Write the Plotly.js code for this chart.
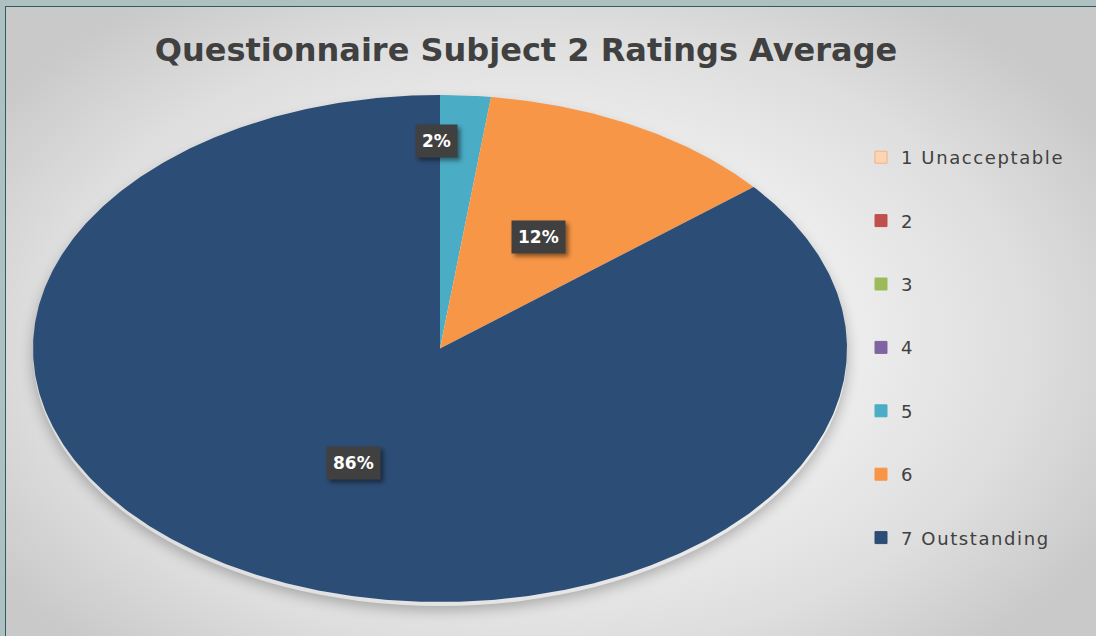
<!DOCTYPE html>
<html>
<head>
<meta charset="utf-8">
<script src="https://cdn.plot.ly/plotly-3.0.1.min.js"></script>
<style>
  html, body { margin: 0; padding: 0; width: 1096px; height: 636px; overflow: hidden; background: #afc0c0; }
  #bg { position: absolute; left: 5px; top: 6px; width: 1100px; height: 640px;
        border-left: 1.5px solid #2e5c66; border-top: 1.5px solid #2e5c66;
        background: radial-gradient(ellipse 60% 65% at 48% 52%, #ffffff 0%, #f4f4f4 35%, #dedede 75%, #c9c9c9 100%); }
  #pieShadow { position: absolute; left: 33px; top: 99px; width: 814px; height: 507px; border-radius: 50%;
        box-shadow: 0 4px 14px rgba(0,0,0,0.28); }
  #chart { position: absolute; left: 0; top: 0; width: 1096px; height: 636px; }
  #chart .annotation rect.bg { filter: drop-shadow(3px 3px 2px rgba(0,0,0,0.45)); }
  #chart .legendtext { letter-spacing: 1.6px; }
  #chart .legend .scrollbox, #chart .legend { clip-path: none !important; }
</style>
</head>
<body>
<div id="bg"></div>
<div id="pieShadow"></div>
<div id="chart"></div>
<script>
// ---- data ----
const categories = ['1 Unacceptable', '2', '3', '4', '5', '6', '7 Outstanding'];
const ratingCounts = [0, 0, 0, 0, 1, 6, 43];
const chartTitle = 'Questionnaire Subject 2 Ratings Average';

// ---- styles ----
const sliceColors = ['#fcd5b5', '#c0504d', '#9bbb59', '#8064a2', '#4bacc6', '#f79646', '#2c4d75'];
const legendLineColors = ['#f4b183', '#c0504d', '#9bbb59', '#8064a2', '#4bacc6', '#f79646', '#2c4d75'];
const labelRadius = [0.5, 0.5, 0.5, 0.5, 0.82, 0.5, 0.5];
const labelXShift = [0, 0, 0, 0, -24, 0, 0];

const total = ratingCounts.reduce((a, b) => a + b, 0);
const traces = [];
const annotations = [];
let cum = 0;
categories.forEach((cat, i) => {
  const v = ratingCounts[i];
  const a0 = cum / total * 2 * Math.PI;
  cum += v;
  const a1 = cum / total * 2 * Math.PI;
  if (v > 0) {
    const xs = [0], ys = [0];
    const steps = Math.max(2, Math.ceil((a1 - a0) / (Math.PI / 360)));
    for (let k = 0; k <= steps; k++) {
      const t = a0 + (a1 - a0) * k / steps;
      xs.push(Math.sin(t)); ys.push(Math.cos(t));
    }
    xs.push(0); ys.push(0);
    traces.push({
      type: 'scatter', mode: 'lines', x: xs, y: ys, fill: 'toself',
      fillcolor: sliceColors[i], line: { width: 0, color: sliceColors[i] },
      hoverinfo: 'text', text: cat + ': ' + v, hoveron: 'fills',
      legendgroup: 'g' + i, showlegend: false
    });
    const am = (a0 + a1) / 2;
    const r = labelRadius[i];
    const pct = Math.round(v / total * 100) + '%';
    annotations.push({
      x: Math.sin(am) * r, y: Math.cos(am) * r, xref: 'x', yref: 'y',
      xshift: labelXShift[i],
      text: '<b>' + pct + '</b>', showarrow: false,
      font: { family: 'DejaVu Sans', size: 17, color: '#ffffff' },
      bgcolor: '#404040', borderpad: 6
    });
  }
});
// legend entries
categories.forEach((cat, i) => {
  traces.push({
    type: 'scatter', mode: 'markers', x: [null], y: [null], name: cat,
    marker: { symbol: 'square', size: 12, color: sliceColors[i], line: { width: 1, color: legendLineColors[i] } },
    legendgroup: 'g' + i, showlegend: true, hoverinfo: 'skip'
  });
});

const layout = {
  width: 1096, height: 636,
  margin: { l: 0, r: 0, t: 0, b: 0 },
  paper_bgcolor: 'rgba(0,0,0,0)', plot_bgcolor: 'rgba(0,0,0,0)',
  title: {
    text: '<b>' + chartTitle + '</b>',
    x: 526 / 1096, xanchor: 'center', xref: 'paper',
    y: 1 - 50 / 636, yanchor: 'middle', yref: 'paper',
    font: { family: 'DejaVu Sans', size: 32, color: '#404040' }
  },
  xaxis: { domain: [33 / 1096, 847 / 1096], range: [-1, 1], visible: false, fixedrange: true },
  yaxis: { domain: [(636 - 602) / 636, (636 - 95) / 636], range: [-1, 1], visible: false, fixedrange: true },
  showlegend: true,
  legend: {
    x: 861 / 1096, xanchor: 'left', y: 1 - 139 / 636, yanchor: 'top',
    traceorder: 'grouped', tracegroupgap: 37,
    font: { family: 'DejaVu Sans', size: 18, color: '#404040' },
    bgcolor: 'rgba(0,0,0,0)'
  },
  annotations: annotations,
  hovermode: 'closest'
};

Plotly.newPlot('chart', traces, layout, { displayModeBar: false });
</script>
</body>
</html>
